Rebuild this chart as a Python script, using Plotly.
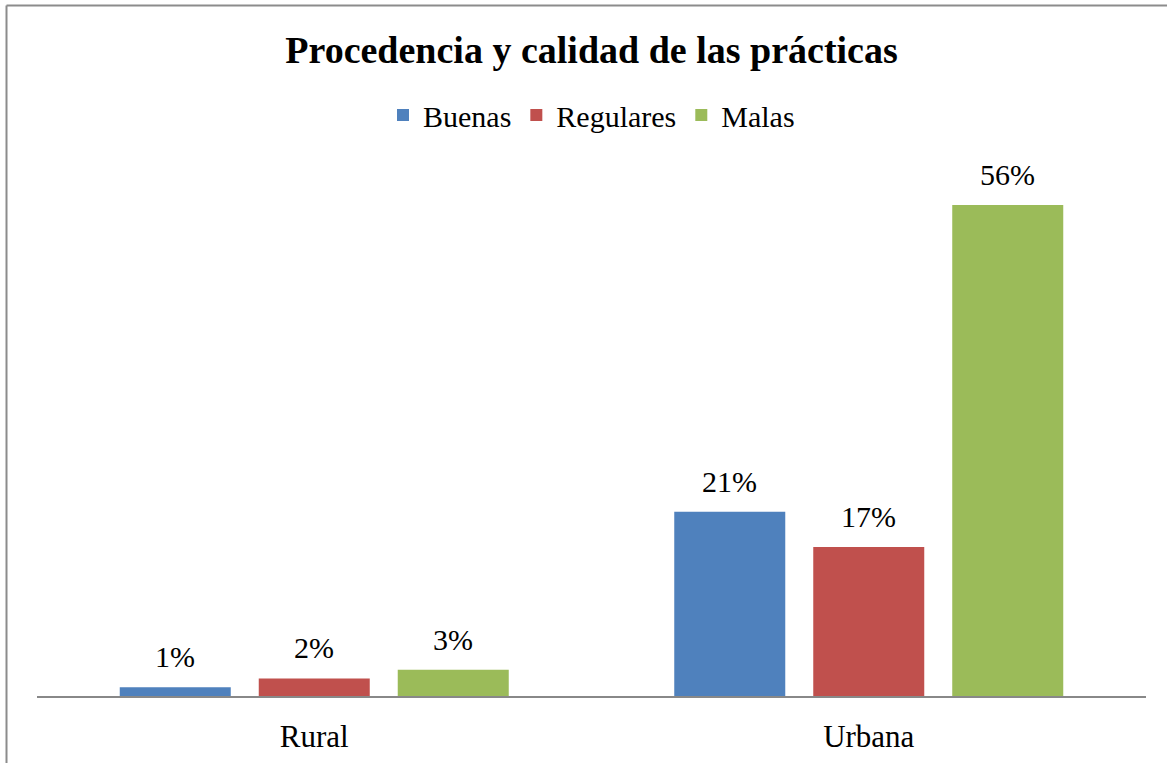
import plotly.graph_objects as go

categories = ["Rural", "Urbana"]
series_names = ["Buenas", "Regulares", "Malas"]
buenas = [0.01, 0.21]
regulares = [0.02, 0.17]
malas = [0.03, 0.56]
labels_buenas = ["1%", "21%"]
labels_regulares = ["2%", "17%"]
labels_malas = ["3%", "56%"]
colors = ["#4F81BD", "#C0504D", "#9BBB59"]

W, H = 1167, 763
L, R, T, B = 37, 21, 150, 67
pw, ph = W - L - R, H - T - B
FONT = "Liberation Serif"
BARGAP = 0.248

fig = go.Figure()
for name, vals, col in zip(series_names, [buenas, regulares, malas], colors):
    fig.add_trace(go.Bar(
        name=name, x=categories, y=vals,
        marker=dict(color=col, line=dict(width=0)),
    ))

annotations = []
nser = len(series_names)
slot = (1 - BARGAP) / nser
for k, (vals, labs) in enumerate(zip([buenas, regulares, malas],
                                     [labels_buenas, labels_regulares, labels_malas])):
    for i, (v, lab) in enumerate(zip(vals, labs)):
        annotations.append(dict(
            x=i + (k - (nser - 1) / 2) * slot, y=v, xref="x", yref="y",
            text=lab, showarrow=False, yanchor="bottom", xanchor="center", yshift=12,
            font=dict(family=FONT, size=30, color="#000000"),
        ))

def px_x(p):
    return (p - L) / pw

def px_y(p):
    return (H - B - p) / ph

fig.update_layout(
    width=W, height=H,
    font=dict(family=FONT, color="#000000"),
    margin=dict(l=L, r=R, t=T, b=B, autoexpand=False),
    paper_bgcolor="white", plot_bgcolor="white",
    barmode="group", bargap=BARGAP, bargroupgap=0.2014,
    title=dict(text="<b>Procedencia y calidad de las prácticas</b>",
               font=dict(family=FONT, size=38, color="#000000"),
               x=0.5, xref="paper", xanchor="center", y=1 - 50 / H, yanchor="middle"),
    legend=dict(orientation="h", x=0.5, xanchor="center", xref="paper",
                y=px_y(115), yanchor="middle", yref="paper",
                font=dict(family=FONT, size=30, color="#000000"),
                itemwidth=30, traceorder="normal"),
    xaxis=dict(showline=True, linecolor="#888888", linewidth=2, ticks="",
               tickfont=dict(family=FONT, size=31, color="#000000"),
               ticklabelstandoff=12,
               showgrid=False, zeroline=False),
    yaxis=dict(range=[0, ph / 877.0], visible=False, showgrid=False, zeroline=False),
    annotations=annotations,
    shapes=[
        dict(type="line", xref="paper", yref="paper", x0=px_x(6.5), x1=px_x(6.5),
             y0=px_y(5.5), y1=px_y(H + 5), line=dict(color="#8c8c8c", width=2)),
        dict(type="line", xref="paper", yref="paper", x0=px_x(6.5), x1=px_x(W + 5),
             y0=px_y(5.5), y1=px_y(5.5), line=dict(color="#8c8c8c", width=2)),
    ],
)

fig.write_html("out.html", config={"displayModeBar": False},
               post_script="document.body.style.margin='0px';document.body.style.overflow='hidden';")
